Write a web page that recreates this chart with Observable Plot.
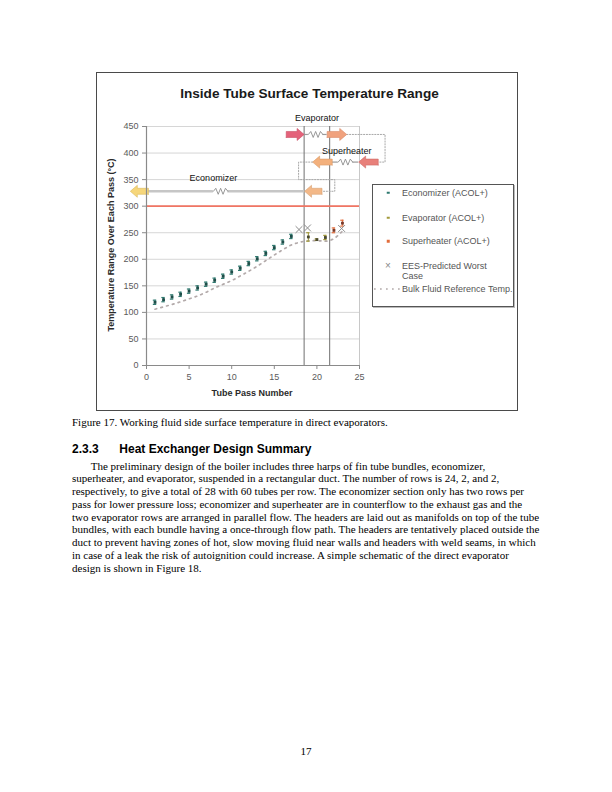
<!DOCTYPE html>
<html>
<head>
<meta charset="utf-8">
<script src="https://cdn.jsdelivr.net/npm/d3@7"></script>
<script src="https://cdn.jsdelivr.net/npm/@observablehq/plot@0.6"></script>
<style>
  html, body { margin: 0; padding: 0; background: #fff; }
  #page { position: relative; width: 612px; height: 792px; overflow: hidden; background: #fff; }
  .serif { position: absolute; font-family: "Liberation Serif", "Times New Roman", serif; font-size: 11px; line-height: 12.75px; color: #000; white-space: pre; }
  .sans { font-family: "Liberation Sans", Arial, sans-serif; }
  #chartbox { position: absolute; left: 96px; top: 72px; width: 421px; height: 338px; }
  #chartbox > svg { position: absolute; left: 0; top: 0; }
  #frame { position: absolute; left: 0; top: 0; width: 420px; height: 337px; border: 1px solid #4a4a4a; box-sizing: content-box; pointer-events: none; }
  #title { position: absolute; left: 3px; top: 14px; width: 421px; text-align: center; font: bold 13.6px/16px "Liberation Sans", Arial, sans-serif; color: #1a1a1a; white-space: nowrap; }
  .axtitle { position: absolute; font: bold 9px/11px "Liberation Sans", Arial, sans-serif; color: #2a2a2a; white-space: nowrap; transform: translate(-50%, -50%); }
  #legend { position: absolute; left: 276px; top: 112px; width: 140px; height: 121px; border: 1px solid #555; background: #fff; box-shadow: 1px 1px 0 #bbb; }
  .lg { position: absolute; left: 29px; font: 9px/10px "Liberation Sans", Arial, sans-serif; color: #555; white-space: nowrap; transform: translateY(-50%); }
  .sym { position: absolute; transform: translate(-50%, -50%); }
</style>
</head>
<body>
<div id="page">
  <div id="chartbox">
    <div id="title">Inside Tube Surface Temperature Range</div>
    <div class="axtitle" style="left:15px; top:173px; transform: translate(-50%,-50%) rotate(-90deg);">Temperature Range Over Each Pass (°C)</div>
    <div class="axtitle" style="left:156px; top:321px;">Tube Pass Number</div>
    <div id="legend"></div>
    <div id="frame"></div>
  </div>
  <div class="serif" style="left:72px; top:415.6px;">Figure 17. Working fluid side surface temperature in direct evaporators.</div>
  <div class="sans" style="position:absolute; left:72px; top:441.8px; font-weight:bold; font-size:12px; line-height:14px; white-space:pre;">2.3.3</div>
  <div class="sans" style="position:absolute; left:119.3px; top:441.8px; font-weight:bold; font-size:12px; line-height:14px; white-space:pre;">Heat Exchanger Design Summary</div>
  <div id="para" class="serif" style="left:72px; top:459.7px; text-indent:18.7px;"></div>
  <div class="serif" style="left:0; width:612px; text-align:center; top:745px;">17</div>
</div>
<script>
// ---------------- data ----------------
const xTicks = [0, 5, 10, 15, 20, 25];
const yTicks = [0, 50, 100, 150, 200, 250, 300, 350, 400, 450];

const econPass = [1, 2, 3, 4, 5, 6, 7, 8, 9, 10, 11, 12, 13, 14, 15, 16, 17];
const econTemp = [119, 124, 129, 134, 140, 146, 153, 160.5, 168, 176, 183, 192, 201, 211, 222, 232.5, 243];
const econErr  = [4, 4, 4, 4, 4, 4, 4, 4, 4, 4, 4, 4, 4, 4, 4, 4, 4];

const evapPass = [19, 20, 21];
const evapTemp = [242, 237, 241];
const evapErr  = [8, 1.5, 4];

const supPass = [22, 23];
const supTemp = [254.5, 268];
const supErr  = [4.5, 5.5];

const eesPass = [17.9, 18.9, 22.9];
const eesTemp = [256, 259, 258];

const bulkPass = [1, 2, 3, 4, 5, 6, 7, 8, 9, 10, 11, 12, 13, 14, 15, 16, 17, 18, 19, 20, 21, 22, 23];
const bulkTemp = [106, 110.5, 115, 120, 125.5, 131, 138, 146, 153, 160, 168.5, 177.5, 187, 197.5, 208, 218, 227, 232, 235, 235, 234, 239, 253];

const sectionBounds = [18.5, 21.5];
const tempLimit = [300];

// flow schematic (in chart units: pass number, °C)
const arrowTail  = [16.4, 21.2, 27.2, 21.8, 20.6, 0.23];
const arrowTip   = [18.5, 23.5, 24.9, 19.5, 18.55, -1.9];
const arrowLevel = [435, 435, 383, 383, 328, 328];
const arrowColor = ["#e4627a", "#f0a27e", "#e8807a", "#f3b07c", "#f3b888", "#f6d67a"];
const arrowEdge  = ["#c94d63", "#d98a68", "#cf6a66", "#d99a68", "#d9a274", "#d8b85e"];

const springFrom   = [18.5, 24.9, 0.23];
const springTo     = [21.2, 21.8, 18.55];
const springCenter = [19.85, 23.35, 8.7];
const springLevel  = [435, 383, 328];
const springLead   = [1.2, 1.2, 2.6];
const springLeadColor = ["#9a9a9a", "#9a9a9a", "#c6c6c6"];

const connPassA = [23.5, 28.0, 28.0, 27.2];
const connTempA = [435, 435, 383, 383];
const connPassB = [19.5, 17.85, 17.85, 22.1, 22.1, 20.6];
const connTempB = [383, 383, 350, 350, 328, 328];

const sectionNames = ["Evaporator", "Superheater", "Economizer"];
const sectionLabelPass = [20.0, 23.5, 7.85];
const sectionLabelTemp = [466, 404, 352];

const paragraphLines = [
  "The preliminary design of the boiler includes three harps of fin tube bundles, economizer,",
  "superheater, and evaporator, suspended in a rectangular duct. The number of rows is 24, 2, and 2,",
  "respectively, to give a total of 28 with 60 tubes per row. The economizer section only has two rows per",
  "pass for lower pressure loss; economizer and superheater are in counterflow to the exhaust gas and the",
  "two evaporator rows are arranged in parallel flow. The headers are laid out as manifolds on top of the tube",
  "bundles, with each bundle having a once-through flow path. The headers are tentatively placed outside the",
  "duct to prevent having zones of hot, slow moving fluid near walls and headers with weld seams, in which",
  "in case of a leak the risk of autoignition could increase. A simple schematic of the direct evaporator",
  "design is shown in Figure 18."
];

// ---------------- build tables ----------------
const pts = (P, T, E) => P.map((p, i) => ({pass: p, t: T[i], e: E ? E[i] : 0}));
const econ = pts(econPass, econTemp, econErr);
const evap = pts(evapPass, evapTemp, evapErr);
const sup = pts(supPass, supTemp, supErr);
const ees = pts(eesPass, eesTemp);
const bulk = pts(bulkPass, bulkTemp);

const W = 421, H = 338, mL = 50, mR = 158, mT = 54, mB = 45;
const kx = (W - mL - mR) / 25;   // px per pass
const ky = (H - mT - mB) / 450;  // px per °C

// block arrows as polygons
const arrowMarks = arrowTail.map((tail, i) => {
  const tip = arrowTip[i], y = arrowLevel[i];
  const dir = Math.sign(tip - tail);
  const neck = tip - dir * 7 / kx;
  const bh = 3 / ky, hh = 6 / ky;
  const poly = [
    {x: tail, y: y - bh}, {x: neck, y: y - bh}, {x: neck, y: y - hh}, {x: tip, y: y},
    {x: neck, y: y + hh}, {x: neck, y: y + bh}, {x: tail, y: y + bh}, {x: tail, y: y - bh}
  ];
  return Plot.line(poly, {x: "x", y: "y", fill: arrowColor[i], stroke: arrowEdge[i], strokeWidth: 0.6});
});

// springs
const hw = 0.85, amp = 3 / ky;
const springMarks = [];
springFrom.forEach((from, i) => {
  const c = springCenter[i], y = springLevel[i], to = springTo[i];
  const lo = Math.min(from, to), hi = Math.max(from, to);
  springMarks.push(Plot.ruleY([{a: lo, b: c - hw, y}, {a: c + hw, b: hi, y}],
    {y: "y", x1: "a", x2: "b", stroke: springLeadColor[i], strokeWidth: springLead[i]}));
  const zz = [{x: c - hw, y}];
  for (let k = 1; k < 6; k++) zz.push({x: c - hw + k * (2 * hw / 6), y: y + (k % 2 ? amp : -amp)});
  zz.push({x: c + hw, y});
  springMarks.push(Plot.line(zz, {x: "x", y: "y", stroke: "#8c8c8c", strokeWidth: 0.9}));
});

const errMarks = (data, color, center) => [
  Plot.ruleX(data, {x: "pass", y1: d => d.t - d.e, y2: d => d.t + d.e, stroke: color, strokeWidth: 1}),
  Plot.ruleY(data, {y: d => d.t + d.e, x1: d => d.pass - 0.2, x2: d => d.pass + 0.2, stroke: color, strokeWidth: 1.2}),
  Plot.ruleY(data, {y: d => d.t - d.e, x1: d => d.pass - 0.2, x2: d => d.pass + 0.2, stroke: color, strokeWidth: 1.2}),
  Plot.dot(data, {x: "pass", y: "t", symbol: "square", r: 1.6, fill: center})
];

const chart = Plot.plot({
  width: W, height: H,
  marginLeft: mL, marginRight: mR, marginTop: mT, marginBottom: mB,
  x: {domain: [0, 25]},
  y: {domain: [0, 450]},
  style: {fontFamily: "'Liberation Sans', Arial, sans-serif", fontSize: "9px", color: "#5a5a5a", background: "transparent", overflow: "visible"},
  marks: [
    Plot.ruleY(yTicks.filter(v => v > 0), {x1: 0, x2: 25, stroke: "#d6d6d6", strokeWidth: 1}),
    Plot.ruleX([25], {y1: 0, y2: 450, stroke: "#c8c8c8", strokeWidth: 1}),
    Plot.ruleX(sectionBounds, {y1: 0, y2: 450, stroke: "#707070", strokeWidth: 1}),
    Plot.ruleY(tempLimit, {x1: 0, x2: 25, stroke: "#f07563", strokeWidth: 1.6}),
    Plot.line(connPassA.map((p, i) => ({x: p, y: connTempA[i]})), {x: "x", y: "y", stroke: "#a8a8a8", strokeWidth: 1, strokeDasharray: "1.2,1.6"}),
    Plot.line(connPassB.map((p, i) => ({x: p, y: connTempB[i]})), {x: "x", y: "y", stroke: "#a8a8a8", strokeWidth: 1, strokeDasharray: "1.2,1.6"}),
    ...springMarks,
    ...arrowMarks,
    Plot.text(sectionNames.map((n, i) => ({n, x: sectionLabelPass[i], y: sectionLabelTemp[i]})),
      {x: "x", y: "y", text: "n", fill: "#111", fontSize: 9}),
    Plot.line(bulk, {x: "pass", y: "t", stroke: "#b3aaaa", strokeWidth: 1.7, strokeDasharray: "1.7,4.3", curve: "monotone-x"}),
    ...errMarks(econ, "#2f7a70", "#1e4e49"),
    ...errMarks(evap, "#a39a3c", "#4a4a30"),
    ...errMarks(sup, "#e26d3c", "#7a3a2a"),
    Plot.dot(ees, {x: "pass", y: "t", symbol: "times", r: 3.2, stroke: "#8c8c8c", strokeWidth: 1}),
    Plot.ruleX([0], {y1: 0, y2: 450, stroke: "#8a8a8a", strokeWidth: 1.2}),
    Plot.ruleY([0], {x1: 0, x2: 25, stroke: "#8a8a8a", strokeWidth: 1.2}),
    Plot.axisY(yTicks, {tickSize: 4, tickPadding: 4, label: null, stroke: "#8a8a8a"}),
    Plot.axisX(xTicks, {tickSize: 4, tickPadding: 4, label: null, stroke: "#8a8a8a"})
  ]
});
document.getElementById("chartbox").prepend(chart);

// legend
const legendItems = [
  {label: "Economizer (ACOL+)", y: 7.7, sym: '<span class="sym" style="left:15px;top:7.7px;width:2.5px;height:2.5px;background:#2f7a70"></span>'},
  {label: "Evaporator (ACOL+)", y: 32.7, sym: '<span class="sym" style="left:15px;top:32.7px;width:2.5px;height:2.5px;background:#a39a3c"></span>'},
  {label: "Superheater (ACOL+)", y: 56, sym: '<span class="sym" style="left:15px;top:56px;width:2.5px;height:2.5px;background:#e26d3c"></span>'},
  {label: "EES-Predicted Worst<br>Case", y: 86, sym: '<span class="sym sans" style="left:15px;top:80.5px;font-size:10px;line-height:10px;color:#888">×</span>'},
  {label: "Bulk Fluid Reference Temp.", y: 104, sym: '<svg class="sym" style="left:14px;top:104px" width="26" height="3"><line x1="0" y1="1.5" x2="26" y2="1.5" stroke="#b3aaaa" stroke-width="1.6" stroke-dasharray="1.7,4.3"/></svg>'}
];
document.getElementById("legend").innerHTML = legendItems.map(d =>
  d.sym + `<div class="lg" style="top:${d.y}px">${d.label}</div>`).join("");

document.getElementById("para").textContent = paragraphLines.join("\n");
</script>
</body>
</html>
